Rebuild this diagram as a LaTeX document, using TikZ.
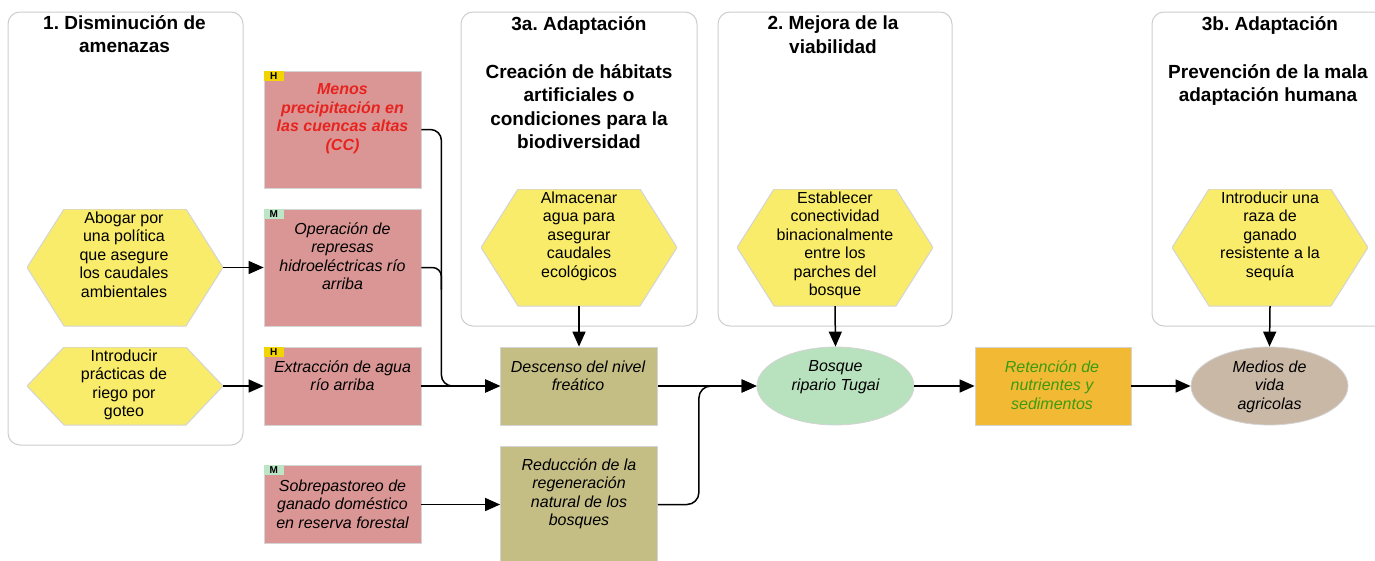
\documentclass[tikz,border=0pt]{standalone}
\usepackage{fontspec}
\setmainfont{Liberation Sans}
\frenchspacing
\usetikzlibrary{arrows.meta,calc,shapes.geometric}
\definecolor{panelline}{RGB}{205,205,205}
\definecolor{boxline}{RGB}{212,212,212}
\definecolor{redbox}{RGB}{218,150,149}
\definecolor{khaki}{RGB}{196,190,133}
\definecolor{greenell}{RGB}{184,226,189}
\definecolor{orangebox}{RGB}{242,186,52}
\definecolor{tanell}{RGB}{201,184,165}
\definecolor{hexyellow}{RGB}{249,236,107}
\definecolor{redtext}{RGB}{230,35,30}
\definecolor{greentext}{RGB}{60,154,16}
\definecolor{tagH}{RGB}{242,212,0}
\definecolor{tagM}{RGB}{188,230,198}
\tikzset{
  panel/.style={draw=panelline, line width=1pt, rounded corners=12pt},
  ttl/.style={font=\fontsize{19}{23.5}\selectfont\bfseries, align=center, anchor=north, inner sep=0pt},
  body/.style={font=\fontsize{16}{18.5}\selectfont, align=center, anchor=north, inner sep=0pt},
  itbody/.style={body, font=\fontsize{16}{18.5}\selectfont\itshape},
  factor/.style={rectangle, draw=boxline, line width=0.8pt, minimum width=157pt, inner sep=0pt},
  redfactor/.style={factor, fill=redbox},
  khakifactor/.style={factor, fill=khaki},
  tagbox/.style={rectangle, anchor=north west, minimum width=20pt, minimum height=10pt, inner sep=0pt, font=\fontsize{10}{10}\selectfont\bfseries},
  hexa/.style={rectangle, draw=none, minimum width=196pt, inner sep=0pt,
    path picture={\filldraw[fill=hexyellow, draw=boxline, line width=1pt]
      (path picture bounding box.west)
      -- ($(path picture bounding box.north west)+(37pt,0)$)
      -- ($(path picture bounding box.north east)+(-37pt,0)$)
      -- (path picture bounding box.east)
      -- ($(path picture bounding box.south east)+(-37pt,0)$)
      -- ($(path picture bounding box.south west)+(37pt,0)$)
      -- cycle;}},
  ell/.style={ellipse, draw=boxline, line width=0.8pt, minimum width=157pt, minimum height=78pt, inner sep=0pt},
  conn/.style={draw=black, line width=1.5pt},
  arr/.style={conn, -{Triangle[length=15pt,width=13pt]}},
}
\begin{document}
\begin{tikzpicture}[x=1pt,y=-1pt]
\useasboundingbox (0,0) rectangle (1375,560);
\clip (0,0) rectangle (1375,560);

% panels
\draw[panel] (8,12) rectangle (243,445);
\draw[panel] (461,12) rectangle (697,326);
\draw[panel] (718,12) rectangle (952,326);
\draw[panel] (1152,12) rectangle (1388,326);

\node[ttl] (t1) at (124.5,15) {1. Disminución de\\amenazas};
\node[ttl] (t3a) at (579,16) {3a. Adaptación};
\node[ttl] (s3a) at (579,64) {Creación de hábitats\\artificiales o\\condiciones para la\\biodiversidad};
\node[ttl] (t2) at (833,16) {2. Mejora de la\\viabilidad};
\node[ttl] (t3b) at (1270,16) {3b. Adaptación};
\node[ttl] (s3b) at (1268,64) {Prevención de la mala\\adaptación humana};

% hexagons
\node[hexa, minimum height=117pt] (h1) at (125,267.5) {};
\node[body] (h1t) at (124,211.5) {Abogar por\\una política\\que asegure\\los caudales\\ambientales};
\node[hexa, minimum height=78pt] (h2) at (125,386) {};
\node[body] (h2t) at (124,349.5) {Introducir\\prácticas de\\riego por\\goteo};
\node[hexa, minimum height=117pt] (h3) at (579,247.5) {};
\node[body] (h3t) at (579,191.5) {Almacenar\\agua para\\asegurar\\caudales\\ecológicos};
\node[hexa, minimum height=117pt] (h4) at (835,247.5) {};
\node[body] (h4t) at (835,191.5) {Establecer\\conectividad\\binacionalmente\\entre los\\parches del\\bosque};
\node[hexa, minimum height=117pt] (h5) at (1270,247.5) {};
\node[body] (h5t) at (1270,191.5) {Introducir una\\raza de\\ganado\\resistente a la\\sequía};

% red factor boxes
\node[redfactor, minimum height=117pt] (A) at (342.5,129.5) {};
\node[tagbox, fill=tagH] (Atag) at (A.north west) {H};
\node[itbody, text=redtext, font=\fontsize{16}{18.5}\selectfont\bfseries\itshape] (At) at (342.5,83.5) {Menos\\precipitación en\\las cuencas altas\\(CC)};

\node[redfactor, minimum height=117pt] (B) at (342.5,267.5) {};
\node[tagbox, fill=tagM] (Btag) at (B.north west) {M};
\node[itbody] (Bt) at (342.5,222.5) {Operación de\\represas\\hidroeléctricas río\\arriba};

\node[redfactor, minimum height=78pt] (C) at (342.5,386) {};
\node[tagbox, fill=tagH] (Ctag) at (C.north west) {H};
\node[itbody] (Ct) at (342.5,360.5) {Extracción de agua\\río arriba};

\node[redfactor, minimum height=78pt] (D) at (342.5,504.5) {};
\node[tagbox, fill=tagM] (Dtag) at (D.north west) {M};
\node[itbody] (Dt) at (342.5,479.5) {Sobrepastoreo de\\ganado doméstico\\en reserva forestal};

% khaki boxes
\node[khakifactor, minimum height=78pt] (Desc) at (579,386) {};
\node[itbody] (Desct) at (578,360.5) {Descenso del nivel\\freático};
\node[khakifactor, minimum height=116pt] (Red) at (579,504.5) {};
\node[itbody] (Redt) at (579,458.5) {Reducción de la\\regeneración\\natural de los\\bosques};

% ellipses and orange box
\node[ell, fill=greenell] (Bos) at (835.5,386) {};
\node[itbody] (Bost) at (835.5,360.5) {Bosque\\ripario Tugai};
\node[factor, fill=orangebox, minimum width=156pt, minimum height=78pt] (Ret) at (1053,386) {};
\node[itbody, text=greentext] (Rett) at (1052,360.5) {Retención de\\nutrientes y\\sedimentos};
\node[ell, fill=tanell] (Med) at (1269.5,386) {};
\node[itbody] (Medt) at (1269.5,360.5) {Medios de\\vida\\agricolas};

% connectors
\draw[arr] (h1.east) -- (B.west);
\draw[arr] (h2.east) -- (C.west);
\draw[arr, rounded corners=11pt] (A.east) -- ++(20,0) |- (Desc.west);
\draw[conn, rounded corners=9pt] (B.east) -- ++(20,0) -- ++(0,22);
\draw[arr] (C.east) -- (Desc.west);
\draw[arr] (D.east) -- (D.east -| Red.west);
\draw[arr] (h3.south) -- (Desc.north);
\draw[arr] (Desc.east) -- (Bos.west);
\draw[arr, rounded corners=12pt] (Red.east) -- ++(41,0) |- (Bos.west);
\draw[arr] (h4.south) -- (Bos.north);
\draw[arr] (Bos.east) -- (Ret.west);
\draw[arr] (Ret.east) -- (Med.west);
\draw[arr] (h5.south) -- (Med.north);
\end{tikzpicture}
\end{document}
